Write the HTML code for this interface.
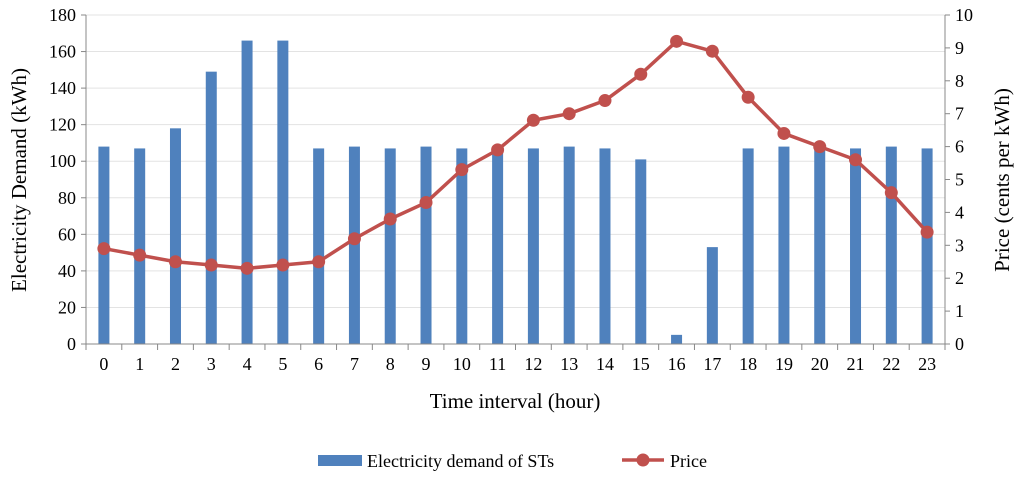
<!DOCTYPE html>
<html><head><meta charset="utf-8"><style>
html,body{margin:0;padding:0;background:#fff;}
svg text{font-family:"Liberation Serif",serif;fill:#000;}
</style></head><body>
<svg id="chart" width="1024" height="475" xmlns="http://www.w3.org/2000/svg">
<g id="grid"></g>
<g id="bars"></g>
<g id="line"></g>
<g id="axes"></g>
<text transform="translate(26,180) rotate(-90)" text-anchor="middle" font-size="21">Electricity Demand (kWh)</text>
<text transform="translate(1009,180) rotate(-90)" text-anchor="middle" font-size="21">Price (cents per kWh)</text>
<text x="515" y="408" text-anchor="middle" font-size="21">Time interval (hour)</text>
<g>
<rect x="318" y="455" width="44" height="11" fill="#4F81BD"/>
<text x="367" y="467" font-size="18">Electricity demand of STs</text>
<line x1="622" y1="460" x2="664" y2="460" stroke="#C0504D" stroke-width="3.5"/>
<circle cx="643" cy="460" r="6.5" fill="#C0504D"/>
<text x="670" y="467" font-size="18">Price</text>
</g>
</svg>
<script>
const categories=["0","1","2","3","4","5","6","7","8","9","10","11","12","13","14","15","16","17","18","19","20","21","22","23"];
const demand=[108,107,118,149,166,166,107,108,107,108,107,107,107,108,107,101,5,53,107,108,107,107,108,107];
const price=[2.9,2.7,2.5,2.4,2.3,2.4,2.5,3.2,3.8,4.3,5.3,5.9,6.8,7.0,7.4,8.2,9.2,8.9,7.5,6.4,6.0,5.6,4.6,3.4];
const leftTicks=[0,20,40,60,80,100,120,140,160,180];
const rightTicks=[0,1,2,3,4,5,6,7,8,9,10];
const NS="http://www.w3.org/2000/svg";
const L=86,R=945,T=15,B=344;
const bw=(R-L)/categories.length;
const xc=i=>L+bw*(i+0.5);
const yL=v=>B-(v/180)*(B-T);
const yR=v=>B-(v/10)*(B-T);
function mk(tag,attrs,parent,txt){const e=document.createElementNS(NS,tag);for(const k in attrs)e.setAttribute(k,attrs[k]);if(txt!==undefined)e.textContent=txt;parent.appendChild(e);return e;}
const grid=document.getElementById('grid'),bars=document.getElementById('bars'),line=document.getElementById('line'),axes=document.getElementById('axes');
leftTicks.forEach(t=>{
 if(t>0){const g=mk('line',{x1:L,x2:R,y1:yL(t),y2:yL(t),stroke:'#e3e3e3','stroke-width':1},grid);
 
 }
 const tx=mk('text',{x:L-10,y:yL(t)+6,'text-anchor':'end','font-size':18},axes,t);
 
 
 mk('line',{x1:L-5,x2:L,y1:yL(t),y2:yL(t),stroke:'#888'},axes);
});
rightTicks.forEach(t=>{
 const tx=mk('text',{x:R+10,y:yR(t)+6,'text-anchor':'start','font-size':18},axes,t);
 
 
 mk('line',{x1:R,x2:R+5,y1:yR(t),y2:yR(t),stroke:'#888'},axes);
});
mk('line',{x1:L,x2:L,y1:T,y2:B,stroke:'#888'},axes);
mk('line',{x1:R,x2:R,y1:T,y2:B,stroke:'#888'},axes);
mk('line',{x1:L,x2:R,y1:B,y2:B,stroke:'#888'},axes);
categories.forEach((c,i)=>{
 mk('line',{x1:L+bw*i,x2:L+bw*i,y1:B,y2:B+6,stroke:'#888'},axes);
 const tx=mk('text',{x:xc(i),y:B+26,'text-anchor':'middle','font-size':18},axes,c);
 
 
});
mk('line',{x1:R,x2:R,y1:B,y2:B+6,stroke:'#888'},axes);
demand.forEach((v,i)=>{
 const r=mk('rect',{x:xc(i)-5.5,y:yL(v),width:11,height:B-yL(v),fill:'#4F81BD'},bars);
 
 
});
mk('polyline',{points:price.map((v,i)=>xc(i)+','+yR(v)).join(' '),fill:'none',stroke:'#C0504D','stroke-width':3.5,'stroke-linejoin':'round'},line);
price.forEach((v,i)=>{
 const c=mk('circle',{cx:xc(i),cy:yR(v),r:6.5,fill:'#C0504D'},line);
 
 
});
</script>
</body></html>
